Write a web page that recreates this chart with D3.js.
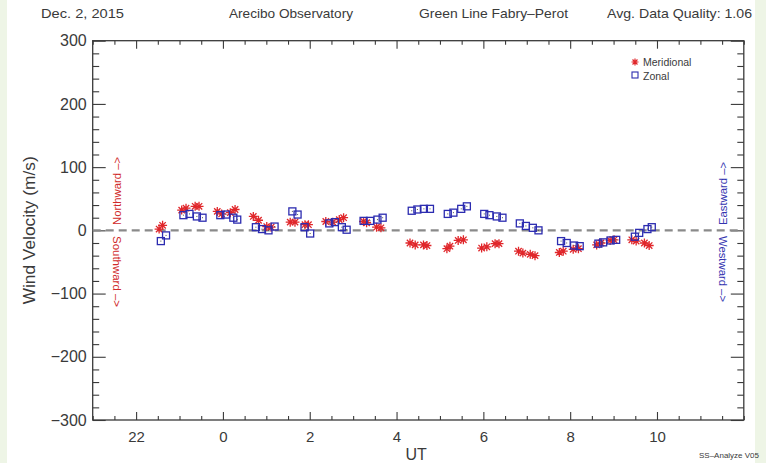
<!DOCTYPE html>
<html>
<head>
<meta charset="utf-8">
<script src="https://cdn.jsdelivr.net/npm/d3@7"></script>
<style>
  html, body { margin: 0; padding: 0; background: #ffffff; }
  svg { display: block; }
  text { font-family: "Liberation Sans", "DejaVu Sans", Arial, sans-serif; }
</style>
</head>
<body>
<svg id="chart" width="766" height="463"></svg>
<script>
// Hours relative to 0 UT (negative values fall on the previous day, e.g. -2 = 22 UT)
const meridionalUT  = [-1.47, -1.39, -0.95, -0.85, -0.64, -0.55, -0.13, -0.03, 0.17, 0.28,
                       0.70, 0.82, 1.01, 1.11, 1.55, 1.66, 1.89, 1.97, 2.37, 2.53, 2.68, 2.78,
                       3.24, 3.31, 3.54, 3.64, 4.31, 4.43, 4.62, 4.70, 5.16, 5.23, 5.42, 5.54,
                       5.96, 6.08, 6.27, 6.36, 6.81, 6.91, 7.08, 7.19, 7.75, 7.84, 8.07, 8.19,
                       8.61, 8.71, 8.92, 9.01, 9.42, 9.52, 9.71, 9.82];
const meridionalVel = [2, 8, 32, 35, 38, 38, 30, 26, 28, 33,
                       22, 16, 6, 5, 13, 13, 9, 9, 14, 13, 17, 20,
                       14, 12, 5, 4, -20, -23, -23, -24, -29, -25, -16, -15,
                       -28, -26, -21, -21, -33, -36, -38, -40, -35, -33, -30, -29,
                       -23, -20, -16, -15, -15, -17, -20, -24];
const zonalUT  = [-1.43, -1.31, -0.91, -0.77, -0.60, -0.47, -0.06, 0.07, 0.24, 0.33,
                  0.76, 0.90, 1.05, 1.19, 1.60, 1.72, 1.88, 2.01, 2.45, 2.58, 2.74, 2.85,
                  3.24, 3.39, 3.56, 3.68, 4.35, 4.48, 4.63, 4.77, 5.18, 5.31, 5.49, 5.62,
                  6.02, 6.14, 6.31, 6.44, 6.84, 6.98, 7.14, 7.27, 7.79, 7.92, 8.09, 8.22,
                  8.65, 8.76, 8.93, 9.06, 9.49, 9.59, 9.78, 9.88];
const zonalVel = [-17, -8, 24, 26, 22, 20, 24, 25, 20, 17,
                  5, 2, 0, 6, 30, 25, 5, -5, 11, 13, 5, 1,
                  15, 15, 17, 20, 31, 33, 34, 34, 26, 28, 34, 38,
                  26, 24, 22, 20, 11, 7, 4, 0, -17, -20, -24, -25,
                  -21, -19, -16, -15, -10, -4, 2, 5];

const xTickValues = [-2, 0, 2, 4, 6, 8, 10];
const xTickLabels = ["22", "0", "2", "4", "6", "8", "10"];
const yTickValues = [-300, -200, -100, 0, 100, 200, 300];

const headerTexts = ["Dec. 2, 2015", "Arecibo Observatory", "Green Line Fabry\u2013Perot", "Avg. Data Quality: 1.06"];
const seriesNames = ["Meridional", "Zonal"];

const svg = d3.select("#chart");
const W = 766, H = 463;
const plot = { left: 92.7, right: 743.8, top: 40.7, bottom: 420 };

const RED = "#e0262a";
const BLUE = "#2c2cb0";
const INK = "#3a3a3a";

// Pale side bands of the page
svg.append("rect").attr("x", 0).attr("y", 0).attr("width", W).attr("height", H).attr("fill", "#ffffff");
svg.append("rect").attr("x", 0).attr("y", 0).attr("width", 7).attr("height", H).attr("fill", "#eef5e6");
svg.append("rect").attr("x", 755).attr("y", 0).attr("width", 11).attr("height", H).attr("fill", "#eef5e6");

const x = d3.scaleLinear().domain([-3, 12]).range([plot.left, plot.right]);
const y = d3.scaleLinear().domain([-300, 300]).range([plot.bottom, plot.top]);

// Header line
const headerPos = [[41, 83], [229, 124], [419, 149], [607, 145]];
svg.selectAll("text.header").data(headerTexts).join("text")
  .attr("class", "header")
  .attr("x", (d, i) => headerPos[i][0])
  .attr("y", 18)
  .attr("textLength", (d, i) => headerPos[i][1])
  .attr("lengthAdjust", "spacingAndGlyphs")
  .attr("font-size", 13)
  .attr("fill", INK)
  .text(d => d);

// Axes: ticks point into the plot on all four sides
function styleAxis(g) {
  g.select(".domain").remove();
  g.selectAll(".tick line").attr("stroke", INK).attr("stroke-width", 1.1);
  g.selectAll(".tick text").attr("fill", INK).attr("font-family", "Liberation Sans, DejaVu Sans, Arial, sans-serif");
}

const xMinor = d3.range(-3, 12.01, 0.5).filter(v => !xTickValues.includes(v));
const yMinor = d3.range(-300, 300.1, 20).filter(v => !yTickValues.includes(v));

// bottom
svg.append("g").attr("transform", `translate(0,${plot.bottom})`)
  .call(d3.axisBottom(x).tickValues(xTickValues).tickSize(-8).tickPadding(11)
        .tickFormat((d, i) => xTickLabels[i]))
  .call(styleAxis)
  .call(g => g.selectAll(".tick text").attr("font-size", 15));
svg.append("g").attr("transform", `translate(0,${plot.bottom})`)
  .call(d3.axisBottom(x).tickValues(xMinor).tickSize(-4).tickFormat(""))
  .call(styleAxis);
// top
svg.append("g").attr("transform", `translate(0,${plot.top})`)
  .call(d3.axisTop(x).tickValues(xTickValues).tickSize(-8).tickFormat(""))
  .call(styleAxis);
svg.append("g").attr("transform", `translate(0,${plot.top})`)
  .call(d3.axisTop(x).tickValues(xMinor).tickSize(-4).tickFormat(""))
  .call(styleAxis);
// left
svg.append("g").attr("transform", `translate(${plot.left},0)`)
  .call(d3.axisLeft(y).tickValues(yTickValues).tickSize(-13).tickPadding(6)
        .tickFormat(d => d3.format("d")(d).replace("-", "\u2212")))
  .call(styleAxis)
  .call(g => g.selectAll(".tick text").attr("font-size", 16));
svg.append("g").attr("transform", `translate(${plot.left},0)`)
  .call(d3.axisLeft(y).tickValues(yMinor).tickSize(-6.5).tickFormat(""))
  .call(styleAxis);
// right
svg.append("g").attr("transform", `translate(${plot.right},0)`)
  .call(d3.axisRight(y).tickValues(yTickValues).tickSize(-13).tickFormat(""))
  .call(styleAxis);
svg.append("g").attr("transform", `translate(${plot.right},0)`)
  .call(d3.axisRight(y).tickValues(yMinor).tickSize(-6.5).tickFormat(""))
  .call(styleAxis);

// Frame
svg.append("rect")
  .attr("x", plot.left).attr("y", plot.top)
  .attr("width", plot.right - plot.left).attr("height", plot.bottom - plot.top)
  .attr("fill", "none").attr("stroke", INK).attr("stroke-width", 1.3);

// Zero reference line
svg.append("line")
  .attr("x1", plot.left).attr("x2", plot.right)
  .attr("y1", y(0)).attr("y2", y(0))
  .attr("stroke", "#8a8a8a").attr("stroke-width", 2.2)
  .attr("stroke-dasharray", "8,5");

// Axis titles
svg.append("text")
  .attr("transform", `translate(35,${y(0)}) rotate(-90)`)
  .attr("text-anchor", "middle")
  .attr("textLength", 148).attr("lengthAdjust", "spacingAndGlyphs")
  .attr("font-size", 17).attr("fill", INK)
  .text("Wind Velocity (m/s)");
svg.append("text")
  .attr("x", x(4.45)).attr("y", 460)
  .attr("text-anchor", "middle")
  .attr("font-size", 16).attr("fill", INK)
  .text("UT");

// Direction hints beside the axes
function sideLabel(xPos, yStart, len, angle, txt, color) {
  svg.append("text")
    .attr("transform", `translate(${xPos},${yStart}) rotate(${angle})`)
    .attr("text-anchor", "start")
    .attr("dy", "0.35em")
    .attr("textLength", len).attr("lengthAdjust", "spacingAndGlyphs")
    .attr("font-size", 11).attr("fill", color)
    .text(txt);
}
sideLabel(117, 225, 68, -90, "Northward \u2013>", "#d02a2a");
sideLabel(117, 236, 71, 90, "Southward \u2013>", "#d02a2a");
sideLabel(723, 225, 63, -90, "Eastward \u2013>", "#3434b0");
sideLabel(723, 236, 66, 90, "Westward \u2013>", "#3434b0");

// Markers
const starR = 4.5;
function starPath(r) {
  const d = r * Math.SQRT1_2;
  return `M${-r},0L${r},0M0,${-r}L0,${r}M${-d},${-d}L${d},${d}M${-d},${d}L${d},${-d}`;
}
const meridional = meridionalUT.map((h, i) => ({ h, v: meridionalVel[i] }));
const zonal = zonalUT.map((h, i) => ({ h, v: zonalVel[i] }));

svg.append("g").selectAll("path").data(meridional).join("path")
  .attr("transform", d => `translate(${x(d.h)},${y(d.v)})`)
  .attr("d", starPath(starR))
  .attr("stroke", RED).attr("stroke-width", 1.3).attr("fill", "none");

const sq = 7;
const zg = svg.append("g").selectAll("g").data(zonal).join("g")
  .attr("transform", d => `translate(${x(d.h)},${y(d.v)})`);
zg.append("rect")
  .attr("x", -sq / 2).attr("y", -sq / 2).attr("width", sq).attr("height", sq)
  .attr("fill", "none").attr("stroke", BLUE).attr("stroke-width", 1.3);
zg.append("rect")
  .attr("x", -0.5).attr("y", -0.5).attr("width", 1).attr("height", 1)
  .attr("fill", "#555");

// Legend
const legend = svg.append("g").attr("transform", "translate(635,62)");
legend.append("path").attr("d", starPath(3.5))
  .attr("stroke", RED).attr("stroke-width", 1.2).attr("fill", "none");
legend.append("rect").attr("x", -3).attr("y", 10).attr("width", 6).attr("height", 6)
  .attr("fill", "none").attr("stroke", BLUE).attr("stroke-width", 1.1);
legend.selectAll("text").data(seriesNames).join("text")
  .attr("x", 8).attr("y", (d, i) => i * 13.5 + 4)
  .attr("font-size", 10.5).attr("fill", INK)
  .text(d => d);

// Software tag
svg.append("text")
  .attr("x", 699).attr("y", 458)
  .attr("textLength", 60).attr("lengthAdjust", "spacingAndGlyphs")
  .attr("font-size", 7.5).attr("fill", INK)
  .text("SS\u2013Analyze V05");
</script>
</body>
</html>
